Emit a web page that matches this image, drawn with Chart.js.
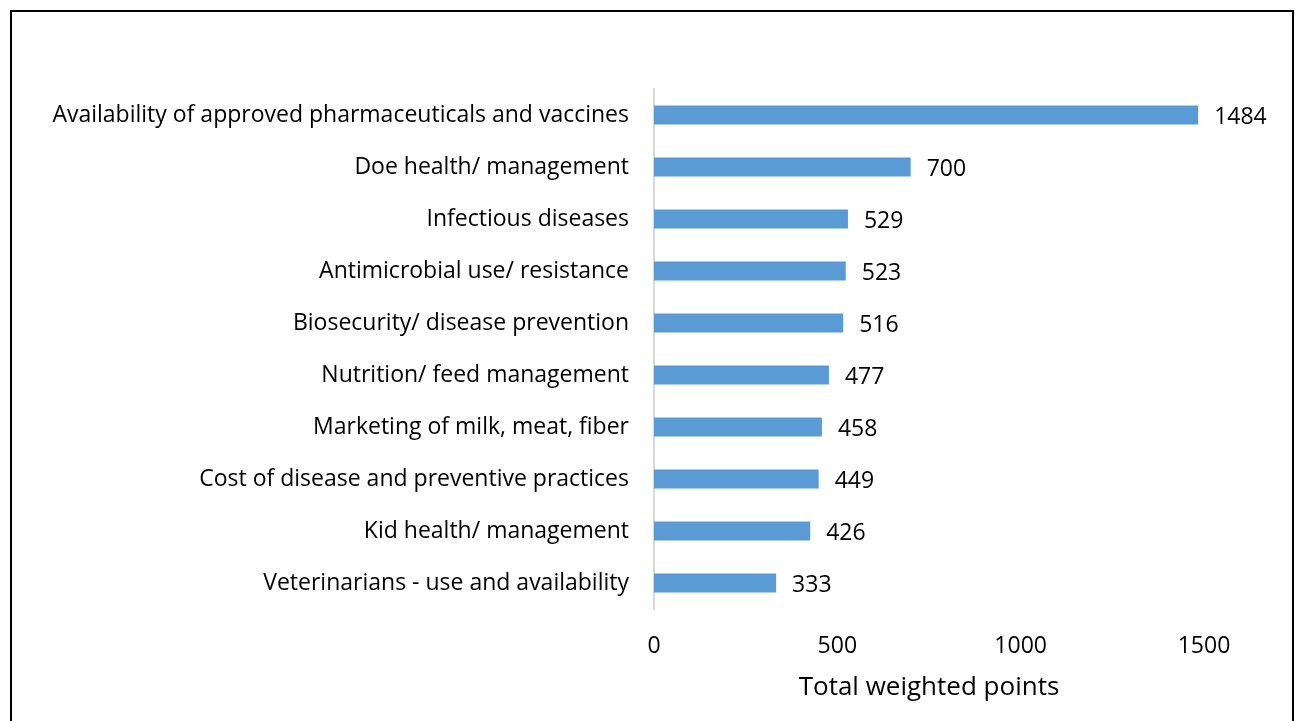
<!DOCTYPE html>
<html>
<head>
<meta charset="utf-8">
<script src="https://cdn.jsdelivr.net/npm/chart.js@4"></script>
<style>
body{margin:0;background:#fff}
#wrap{position:relative;width:1295px;height:721px}
#frame{position:absolute;left:10px;top:10px;width:1284px;height:720px;border:2px solid #000;border-bottom:none;box-sizing:border-box;pointer-events:none}
</style>
</head>
<body>
<div id="wrap">
    <canvas id="topicChart"></canvas>
    <div id="frame"></div>
</div>
<script>
const topics = [
    'Availability of approved pharmaceuticals and vaccines',
    'Doe health/ management',
    'Infectious diseases',
    'Antimicrobial use/ resistance',
    'Biosecurity/ disease prevention',
    'Nutrition/ feed management',
    'Marketing of milk, meat, fiber',
    'Cost of disease and preventive practices',
    'Kid health/ management',
    'Veterinarians - use and availability'
];
const points = [1484, 700, 529, 523, 516, 477, 458, 449, 426, 333];
const xTicks = [0, 500, 1000, 1500];

const FONT = '"Open Sans", sans-serif';

// value labels to the right of each bar
const barLabels = {
    id: 'barLabels',
    afterDatasetsDraw(chart) {
        const ctx = chart.ctx;
        const meta = chart.getDatasetMeta(0);
        ctx.save();
        ctx.font = '23px ' + FONT;
        ctx.fillStyle = '#000';
        ctx.textAlign = 'left';
        ctx.textBaseline = 'middle';
        meta.data.forEach((bar, i) => {
            ctx.fillText(String(points[i]), bar.x + 16, bar.y + 2);
        });
        ctx.restore();
    }
};

const ctx = document.getElementById('topicChart').getContext('2d');
new Chart(ctx, {
    type: 'bar',
    data: {
        labels: topics,
        datasets: [{
            data: points,
            backgroundColor: '#5B9BD5',
            borderWidth: 0,
            categoryPercentage: 1,
            barPercentage: 0.37
        }]
    },
    plugins: [barLabels],
    options: {
        indexAxis: 'y',
        responsive: true,
        maintainAspectRatio: false,
        animation: false,
        layout: { padding: { top: 89, right: 91, left: 0, bottom: 0 } },
        plugins: { legend: { display: false }, tooltip: { enabled: false } },
        scales: {
            x: {
                min: 0,
                max: 1500,
                afterBuildTicks: axis => { axis.ticks = xTicks.map(v => ({ value: v })); },
                afterFit: axis => { axis.height = 112; },
                grid: { display: false, drawTicks: false },
                border: { display: false },
                ticks: {
                    color: '#000',
                    padding: 24,
                    font: { family: FONT, size: 23 },
                    callback: v => String(v)
                },
                title: {
                    display: true,
                    text: 'Total weighted points',
                    color: '#000',
                    font: { family: FONT, size: 26 },
                    padding: { top: 0, bottom: 18 }
                }
            },
            y: {
                afterFit: axis => { axis.width = 654; },
                grid: { display: false, drawTicks: false },
                border: { display: true, color: '#D9D9D9', width: 2 },
                ticks: { color: '#000', padding: 25, font: { family: FONT, size: 23 } }
            }
        }
    }
});
</script>
</body>
</html>
